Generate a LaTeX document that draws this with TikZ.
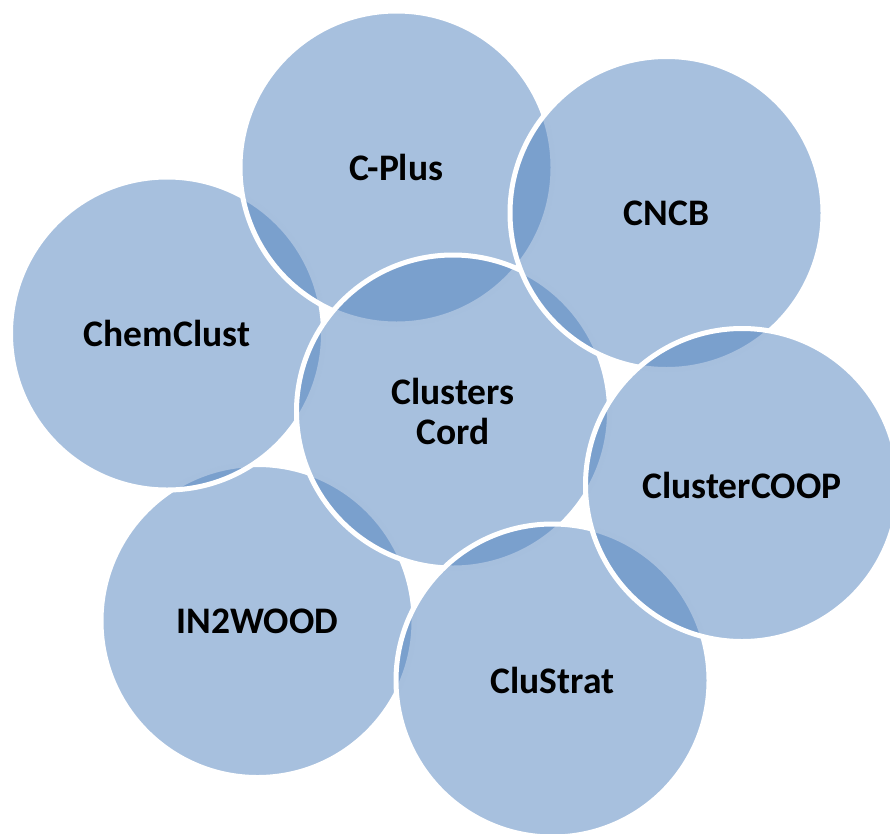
\documentclass[tikz,border=0pt]{standalone}
\usepackage{fontspec}
\setmainfont{Carlito}
\definecolor{accentblue}{HTML}{4F81BD}
\begin{document}
\begin{tikzpicture}[x=1pt,y=-1pt,
  bubble/.style={circle, minimum size=313pt, inner sep=0pt,
    draw=white, line width=5pt, fill=accentblue, fill opacity=0.5,
    draw opacity=1, text opacity=1, text=black,
    font=\fontsize{37.5}{40}\selectfont\bfseries, align=center}]
\useasboundingbox (0,0) rectangle (890,833);
% drawing order matters (later circles lie on top)
\node[bubble] (in2wood) at (257.5,621) {IN2WOOD};
\node[bubble] (chem) at (167,333.5) {ChemClust};
\node[bubble] (cplus) at (396.5,167.5) {C-Plus};
\node[bubble] (cord) at (453,411.5) {Clusters\\Cord};
\node[bubble] (cncb) at (666.5,213) {CNCB};
\node[bubble] (clustrat) at (552.5,680.5) {CluStrat};
\node[bubble] (coop) at (742,485) {ClusterCOOP};
\end{tikzpicture}
\end{document}
